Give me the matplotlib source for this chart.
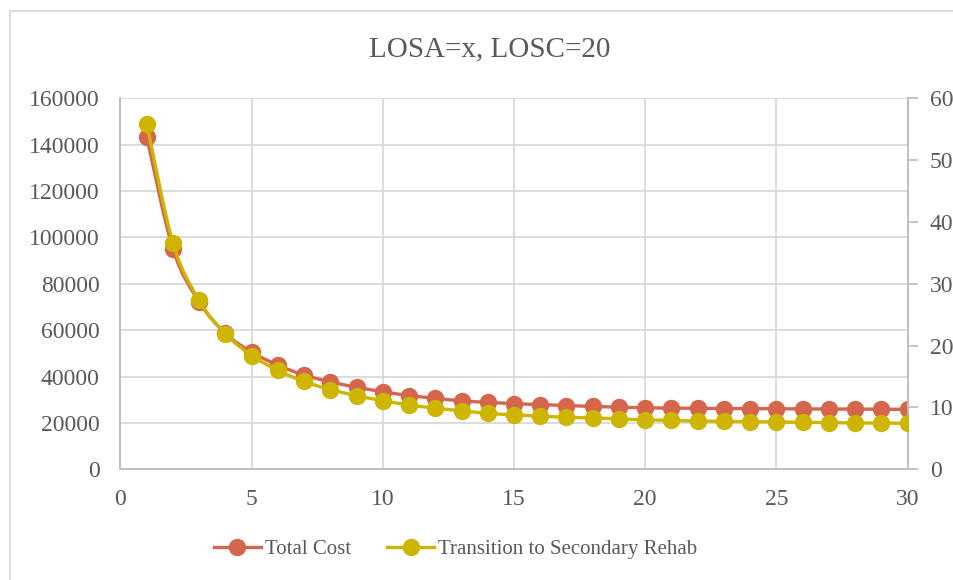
import numpy as np
import matplotlib
matplotlib.use('Agg')
from matplotlib import pyplot as plt
from matplotlib.path import Path
from matplotlib.patches import PathPatch, Rectangle
from matplotlib.lines import Line2D

# Values
los_a = list(range(1, 31))
total_cost = [143400, 95000, 72200, 58600, 50500, 44900, 40600, 37700, 35400, 33450,
              31800, 30650, 29500, 28900, 28300, 27900, 27500, 27100, 26800, 26500,
              26400, 26300, 26200, 26150, 26100, 26050, 26000, 25950, 25900, 25850]
transition = [55.9, 36.6, 27.3, 21.9, 18.4, 16.0, 14.2, 12.9, 11.9, 11.1,
              10.4, 9.9, 9.45, 9.05, 8.8, 8.6, 8.4, 8.3, 8.15, 8.0,
              7.9, 7.8, 7.75, 7.7, 7.65, 7.6, 7.55, 7.5, 7.47, 7.44]

red = '#D5654B'
yellow = '#CDB500'
text_gray = '#595959'
grid_gray = '#D9D9D9'
axis_gray = '#BFBFBF'

plt.rcParams['font.family'] = ['Liberation Serif', 'DejaVu Serif']


# Excel style smoothed line: cubic bezier segments through every point
def smooth_path(xs, ys):
    pts = np.column_stack([xs, ys]).astype(float)
    verts = [pts[0]]
    codes = [Path.MOVETO]
    n = len(pts)
    for i in range(n - 1):
        p0 = pts[i - 1] if i > 0 else pts[i]
        p1, p2 = pts[i], pts[i + 1]
        p3 = pts[i + 2] if i + 2 < n else pts[i + 1]
        verts += [p1 + (p2 - p0) / 6, p2 - (p3 - p1) / 6, p2]
        codes += [Path.CURVE4] * 3
    return Path(verts, codes)


fig = plt.figure(figsize=(9.54, 5.80), dpi=100)
ax = fig.add_axes([0.1263, 0.1909, 0.8250, 0.6396])
ax2 = ax.twinx()

ax.set_xlim(0, 30)
ax.set_ylim(0, 160000)
ax2.set_ylim(0, 60)
ax.set_xticks(range(0, 31, 5))
ax.set_yticks(range(0, 160001, 20000))
ax2.set_yticks(range(0, 61, 10))

ax.grid(True, color=grid_gray, linewidth=1.3)
ax.set_axisbelow(True)

for a in (ax, ax2):
    a.spines['top'].set_visible(False)
    for side in ('left', 'bottom', 'right'):
        a.spines[side].set_color(axis_gray)
        a.spines[side].set_linewidth(1.3)

ax.tick_params(axis='both', length=0, labelsize=17, labelcolor=text_gray)
ax.tick_params(axis='y', pad=15)
ax.tick_params(axis='x', pad=14)
ax2.tick_params(axis='y', length=7, width=1.3, color=axis_gray, labelsize=17,
                labelcolor=text_gray, pad=9)

lw = 2.4
ms = 11.5
ax.add_patch(PathPatch(smooth_path(los_a, total_cost), fill=False, edgecolor=red,
                       linewidth=lw, zorder=3))
ax.plot(los_a, total_cost, linestyle='none', marker='o', markersize=ms, color=red, zorder=4)
ax2.add_patch(PathPatch(smooth_path(los_a, transition), fill=False, edgecolor=yellow,
                        linewidth=lw, zorder=3))
ax2.plot(los_a, transition, linestyle='none', marker='o', markersize=ms, color=yellow, zorder=4)

fig.suptitle('LOSA=x, LOSC=20', x=0.513, y=0.937, fontsize=21, color=text_gray)

handles = [Line2D([], [], color=red, linewidth=lw, marker='o', markersize=ms),
           Line2D([], [], color=yellow, linewidth=lw, marker='o', markersize=ms)]
fig.legend(handles, ['Total Cost', 'Transition to Secondary Rehab'], loc='center',
           bbox_to_anchor=(0.4775, 0.053), ncol=2, frameon=False, fontsize=15,
           labelcolor=text_gray, handlelength=2.25, handletextpad=0.2, columnspacing=1.75)

# chart area border (only top and left edges are inside the picture)
fig.patches.append(Rectangle((10 / 954, -0.1), 1.2, 1.1 - 11 / 580, transform=fig.transFigure,
                             fill=False, edgecolor=grid_gray, linewidth=1.3))

fig.savefig('out.png', dpi=100)
